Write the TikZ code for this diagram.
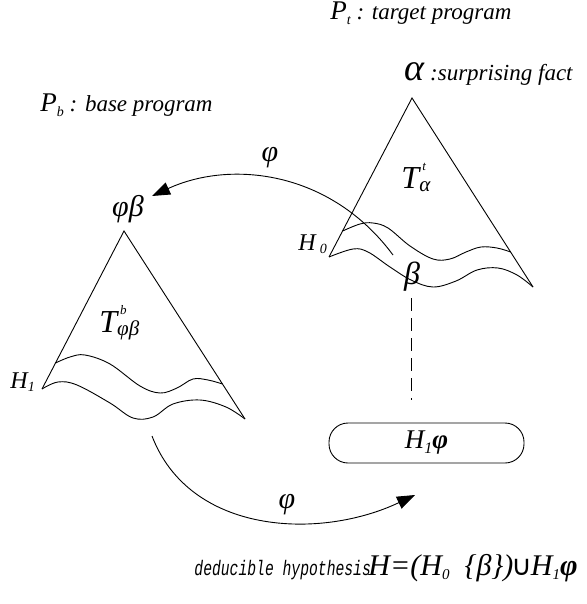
\documentclass[tikz,border=0pt]{standalone}
\usepackage{fontspec}
\setmainfont{Liberation Serif}
\newfontfamily\monof{Liberation Mono}
\newfontfamily\symf{DejaVu Sans}
\usetikzlibrary{arrows.meta}
\newcommand{\fsz}[1]{\fontsize{#1}{#1}\selectfont}
\newcommand{\lowsub}[2]{\raisebox{-0.15em}{\fsz{#1}#2}}
\begin{document}
\begin{tikzpicture}[x=1pt,y=-1pt,line width=0.9pt,
  lbl/.style={inner sep=0pt,font=\fsz{23}\itshape},
  big/.style={inner sep=0pt,font=\fsz{30}\itshape},
  wave/.style={smooth,tension=0.6},
  arr/.style={-{Triangle[length=18pt,width=13pt]}},
  pill/.style={draw,rounded corners=19pt,minimum width=195pt,minimum height=40pt,inner sep=0pt,font=\fsz{27}\itshape}]
\useasboundingbox (0,0) rectangle (586,604);
% right triangle (target program)
\coordinate (ra) at (412,98);
\coordinate (rl) at (329,257);
\coordinate (rr) at (533,287);
\draw (rl) -- (ra) -- (rr);
\draw plot[wave] coordinates {(342.6,231) (360,224) (373,223) (388,228) (410,246) (433,259) (450,259) (466,252) (481,247) (497,248) (510.6,252)};
\draw plot[wave] coordinates {(329,257) (353,249) (368,252) (390,267) (411,280) (433,287) (456,281) (477,270) (498,268) (517,275) (533,287)};
% left triangle (base program)
\coordinate (la) at (124,231);
\coordinate (ll) at (42,389);
\coordinate (lr) at (245,419);
\draw (ll) -- (la) -- (lr);
\draw plot[wave] coordinates {(55.5,363) (70,357) (85,355) (110,364) (140,386) (160,393) (177,388) (193,379) (208,380) (222.5,384)};
\draw plot[wave] coordinates {(42,389) (58,382) (77,385) (110,403) (133,418) (153,417) (173,404) (200,400) (226,407) (245,419)};
% labels
\node[lbl,anchor=base west] (pt) at (330,20) {\fsz{27}P\lowsub{14}{t}\fsz{23} : target program};
\node[lbl,anchor=base west] (alpha) at (404,81) {\fsz{38}α\fsz{23} :surprising fact};
\node[lbl,anchor=base west] (pb) at (40,112) {\fsz{27}P\lowsub{14}{b}\fsz{23} : base program};
\node[big,anchor=base west,font=\fsz{32}\itshape] (tat) at (401,188) {T\rlap{\kern3pt\raisebox{0.55em}{\fsz{13}t}}\raisebox{-0.1em}{\fsz{21}α}};
\node[big,anchor=base west,font=\fsz{32}\itshape] (tpb) at (99,332) {T\rlap{\kern3pt\raisebox{0.55em}{\fsz{13}b}}\raisebox{-0.1em}{\fsz{21}φβ}};
\node[big,anchor=base] (pbeta) at (128,216) {φβ};
\node[lbl,anchor=base west,font=\fsz{24}\itshape] (h0) at (298,250) {H\,\lowsub{14}{0}};
\node[lbl,anchor=base west,font=\fsz{24}\itshape] (h1) at (10,388) {H\lowsub{14}{1}};
\node[big,anchor=base,font=\fsz{32}\itshape] (beta) at (412,284) {β};
\node[pill] (h1phi) at (426.5,443) {H\lowsub{16}{1}\textbf{φ}};
\node[big,anchor=base] (phi1) at (270,161) {φ};
\node[big,anchor=base] (phi2) at (287,508) {φ};
\node[inner sep=0pt,anchor=base west,font=\monof\fsz{21}\itshape] (ded) at (194,575) {\scalebox{0.7}[1]{deducible hypothesis}};
\node[inner sep=0pt,anchor=base west,font=\fsz{30}\itshape] (form) at (368,575) {H=(H\lowsub{15}{0}\ \ \{β\})\kern-2pt{\symf\upshape\fsz{28}∪}\kern-1pt H\lowsub{15}{1}\textbf{φ}};
% connectors
\coordinate (a1s) at (393,255);
\coordinate (a1e) at (152,196);
\draw[arr] (a1s) .. controls (330,170) and (230,160) .. (a1e);
\coordinate (a2s) at (152,436);
\coordinate (a2e) at (415,495);
\draw[arr] (a2s) .. controls (190,535) and (320,540) .. (a2e);
\coordinate (ds) at (411,298);
\coordinate (de) at (411,400);
\draw[dash pattern=on 13pt off 7pt] (ds) -- (de);
\end{tikzpicture}
\end{document}
